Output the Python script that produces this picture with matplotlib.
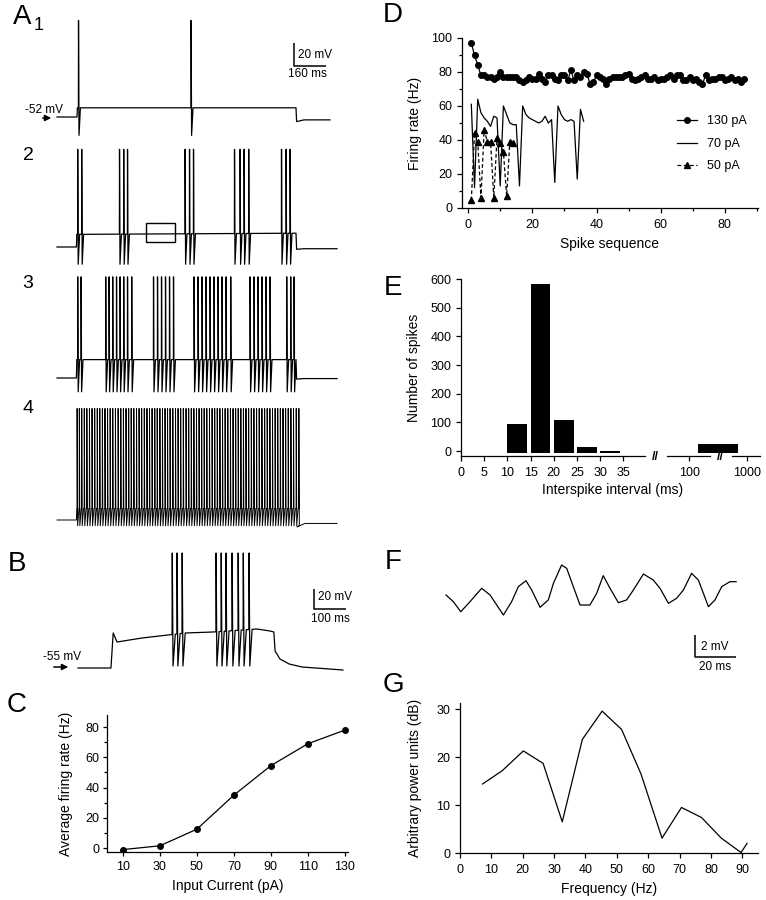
"""Multi-panel figure: firing patterns, rate adaptation, ISI histogram, oscillation and power spectrum."""

import matplotlib
matplotlib.use("Agg")
import matplotlib.pyplot as plt
import numpy as np
from matplotlib.patches import Rectangle
from matplotlib.ticker import MultipleLocator, FixedLocator, NullLocator

plt.rcParams["font.family"] = ["Liberation Sans", "DejaVu Sans"]

W, H = 766, 900

# ---- data -------------------------------------------------------------
# A: spike times (ms), current step ~100-1195 ms
a1_spikes = [107, 670]
a2_spikes = [103, 123, 312, 333, 352, 640, 662, 682, 887, 915, 935, 958, 1122, 1145, 1165]
a3_spikes = [103, 120, 243, 260, 278, 297, 315, 333, 352, 373, 482, 502, 522, 542, 562, 582,
             685, 705, 725, 745, 765, 785, 805, 825, 845, 868, 965, 985, 1005, 1025, 1045, 1065,
             1148, 1168, 1185]

# D: instantaneous firing rate (Hz) versus spike number
rate_130pA = [97, 90, 84, 78, 78, 77, 77, 76, 77, 80,
              77, 77, 77, 77, 77, 75, 74, 75, 77, 76,
              76, 79, 76, 74, 78, 78, 76, 75, 78, 78,
              75, 81, 75, 78, 77, 80, 79, 73, 74, 78,
              77, 76, 73, 76, 77, 77, 77, 77, 78, 79,
              76, 75, 76, 77, 78, 76, 76, 77, 75, 76,
              76, 77, 78, 76, 78, 78, 75, 75, 77, 75,
              76, 74, 73, 78, 75, 76, 76, 77, 77, 75,
              76, 77, 75, 76, 74, 76]
rate_70pA = [61, 12, 64, 56, 53, 51, 48, 54, 53, 13,
             60, 55, 50, 49, 49, 13, 60, 55, 53, 52,
             51, 50, 51, 54, 50, 52, 15, 60, 55, 52,
             51, 52, 51, 17, 58, 51]
rate_50pA = [4.5, 44, 39, 6, 46, 39, 39, 6, 41, 38, 33, 7, 39, 38]

# A4 (130 pA) spike times from the instantaneous rates above
a4_spikes = list(100 + np.concatenate([[0], np.cumsum(1000.0 / np.array(rate_130pA[1:]))]))

# B: spike times (ms) and membrane level knots
b_spikes = [294, 309, 325, 431, 447, 462, 481, 500, 516, 534]
b_plat_t = [110, 122, 200, 281, 334, 422, 559, 600, 612]
b_plat_v = [-20, -29, -25, -22, -20, -19, -16, -18, -19]
b_after_t = [616, 631, 660, 700, 828]
b_after_v = [-38, -46, -51, -54, -57]

# C: input-output curve
current_pA = [10, 30, 50, 70, 90, 110, 130]
avg_rate = [-1, 1.5, 12.5, 35, 54.5, 69, 78]

# E: interspike interval histogram
isi_bins = [10, 15, 20, 25, 30]
isi_counts = [93, 583, 108, 15, 2]
long_bin = (143, 700)
long_count = 24

# F: subthreshold oscillation (ms, mV)
osc_t = [0, 3.6, 7.2, 11.7, 17.4, 21.5, 28.0, 32.0, 35.3, 39.0, 41.8, 45.9, 49.9, 52.4,
         56.4, 58.9, 62.1, 65.4, 70.2, 73.5, 76.7, 80.0, 84.1, 88.1, 91.4, 96.3, 101.1,
         104.4, 108.5, 112.5, 115.8, 119.8, 123.1, 128.0, 131.2, 134.5, 138.5, 141.5]
osc_v = [0, -0.61, -1.52, -0.61, 0.61, 0, -1.82, -0.61, 0.76, 1.30, 0.45, -1.12, -0.45, 1.06,
         2.73, 2.42, 0.76, -0.91, -0.91, 0.15, 1.76, 0.61, -0.70, -0.45, 0.45, 1.91, 1.36,
         0.61, -0.76, -0.30, 0.45, 1.97, 1.36, -1.06, -0.45, 0.76, 1.21, 1.21]

# G: power spectrum
freq_hz = [7.2, 13.5, 20.2, 26.5, 32.6, 39.0, 45.3, 51.5, 57.7, 64.4, 70.6, 77.0, 83.3, 89.6, 91.5]
power_db = [14.4, 17.2, 21.3, 18.7, 6.5, 23.7, 29.6, 25.8, 16.5, 3.1, 9.5, 7.4, 3.1, 0.1, 2.0]


# ---- helpers ----------------------------------------------------------
fig = plt.figure(figsize=(W / 100, H / 100), dpi=100)


def add_ax(left, top, width, height):
    return fig.add_axes([left / W, 1 - (top + height) / H, width / W, height / H])


def trace_ax(left, top, width, height, x0, ms_px, base, base_mv, mv_px):
    ax = add_ax(left, top, width, height)
    ax.set_xlim((left - x0) * ms_px, (left + width - x0) * ms_px)
    ax.set_ylim(base_mv - (top + height - base) * mv_px, base_mv + (base - top) * mv_px)
    ax.axis("off")
    ax.patch.set_visible(False)
    return ax


def ftext(x, y, s, **kw):
    fig.text(x / W, 1 - y / H, s, **kw)


def farrow(x0, x1, y):
    fig.add_artist(matplotlib.patches.FancyArrowPatch(
        (x0 / W, 1 - y / H), (x1 / W, 1 - y / H), transform=fig.transFigure,
        arrowstyle="-|>", mutation_scale=9, lw=1.1, color="k"))


def build_trace(spikes, rest, t_on, plat_t, plat_v, peak, trough, after_t, after_v, t_end):
    pts = [(0.0, rest), (t_on, rest)]
    windows = []
    spike_pts = []
    for i, s in enumerate(spikes):
        nxt = spikes[i + 1] if i + 1 < len(spikes) else plat_t[-1]
        rec = min(s + 10, nxt - 0.5)
        p0 = np.interp(s, plat_t, plat_v)
        spike_pts += [(s, p0), (s + 0.6, peak), (s + 3.0, trough)]
        if rec > s + 3.0:
            spike_pts.append((rec, np.interp(rec, plat_t, plat_v)))
        windows.append((s, max(rec, s + 3.0)))
    for tk, vk in zip(plat_t, plat_v):
        if not any(a <= tk <= b for a, b in windows):
            pts.append((tk, vk))
    pts += spike_pts
    pts.sort()
    pts += list(zip(after_t, after_v)) + [(t_end, after_v[-1])]
    t, v = zip(*pts)
    return t, v


def scale_bar(ax, t, v, dt, dv):
    ax.plot([t, t, t + dt], [v + dv, v, v], color="k", lw=1.1, clip_on=False,
            solid_capstyle="butt")


def style(ax, tick_len=3.5, xpad=4.5, ypad=3.5):
    for side in ("top", "right"):
        ax.spines[side].set_visible(False)
    for side in ("left", "bottom"):
        ax.spines[side].set_linewidth(0.9)
    ax.tick_params(direction="out", length=tick_len, width=0.9, labelsize=9)
    ax.tick_params(axis="x", pad=xpad)
    ax.tick_params(axis="y", pad=ypad)
    ax.tick_params(which="minor", direction="out", length=tick_len * 0.7, width=0.9)


TR = dict(color="k", lw=0.9)
LAB = dict(fontsize=10)

# ---- A traces ---------------------------------------------------------
ax = trace_ax(50, 10, 300, 135, 57, 5, 117, -52, 0.87)
t, v = build_trace(a1_spikes, -52, 100, [102, 1195], [-44, -44], 32, -68,
                   [1198, 1235], [-56, -54.5], 1365)
ax.plot(t, v, **TR)
scale_bar(ax, 1185, -7.6, 160, 20)
ftext(298, 55, "20 mV", fontsize=8.5, va="center")
ftext(307, 74, "160 ms", fontsize=8.5, va="center", ha="center")
ftext(25, 113, "-52 mV", fontsize=8.5, va="baseline")
farrow(40, 54, 118)

ax = trace_ax(50, 140, 300, 135, 57, 5, 247, -52, 0.87)
t, v = build_trace(a2_spikes, -52, 97, [99, 1195], [-41, -40], 33, -67,
                   [1198, 1235], [-54, -53.5], 1400)
ax.plot(t, v, **TR)
ax.add_patch(Rectangle((445, -47.6), 145, 16.5, fill=False, lw=1.0, ec="k"))

ax = trace_ax(50, 265, 300, 135, 57, 5, 378, -52, 0.87)
t, v = build_trace(a3_spikes, -52, 97, [99, 1195], [-36, -36], 36, -64,
                   [1198, 1235], [-53, -52.5], 1400)
ax.plot(t, v, **TR)

ax = trace_ax(50, 400, 300, 135, 57, 5, 520, -52, 0.87)
t, v = build_trace(a4_spikes, -52, 97, [99, 1195], [-42, -42], 45, -57,
                   [1200, 1240], [-58, -55], 1400)
ax.plot(t, v, color="k", lw=0.7)

# ---- B ----------------------------------------------------------------
ax = trace_ax(70, 545, 290, 135, 78, 3.125, 668, -55, 1.0)
t, v = build_trace(b_spikes, -55, 103, b_plat_t, b_plat_v, 60, -53,
                   b_after_t, b_after_v, 828)
ax.plot(t, v, **TR)
scale_bar(ax, 737.5, 4, 100, 20)
ftext(318, 597, "20 mV", fontsize=8.5, va="center")
ftext(330, 619, "100 ms", fontsize=8.5, va="center", ha="center")
ftext(43, 660, "-55 mV", fontsize=8.5, va="baseline")
farrow(51, 71, 667)

# ---- C ----------------------------------------------------------------
ax = add_ax(107, 715, 241, 137)
ax.plot(current_pA, avg_rate, color="k", lw=0.9, marker="o", ms=4)
ax.set_xlim(1.4, 131.7)
ax.set_ylim(-2.6, 88)
ax.xaxis.set_major_locator(FixedLocator(current_pA))
ax.yaxis.set_major_locator(MultipleLocator(20))
ax.yaxis.set_minor_locator(MultipleLocator(10))
style(ax, tick_len=2.8, xpad=4, ypad=2.5)
ax.set_xlabel("Input Current (pA)", labelpad=4, **LAB)
ax.set_ylabel("Average firing rate (Hz)", labelpad=9, **LAB)

# ---- D ----------------------------------------------------------------
ax = add_ax(462, 38, 296, 170)
ax.plot(np.arange(1, len(rate_130pA) + 1), rate_130pA, color="k", lw=0.9,
        marker="o", ms=4, label="130 pA")
ax.plot(np.arange(1, len(rate_70pA) + 1), rate_70pA, color="k", lw=0.9, label="70 pA")
ax.plot(np.arange(1, len(rate_50pA) + 1), rate_50pA, color="k", lw=0.9, ls=(0, (3, 2)),
        marker="^", ms=4.5, label="50 pA")
ax.set_xlim(-1.9, 90.3)
ax.set_ylim(0, 100)
ax.xaxis.set_major_locator(MultipleLocator(20))
ax.xaxis.set_minor_locator(MultipleLocator(10))
ax.yaxis.set_major_locator(MultipleLocator(20))
ax.yaxis.set_minor_locator(MultipleLocator(10))
style(ax)
ax.set_xlabel("Spike sequence", labelpad=4, **LAB)
ax.set_ylabel("Firing rate (Hz)", labelpad=7, **LAB)
ax.legend(frameon=False, fontsize=9, loc="upper left", bbox_to_anchor=(666 / W, 1 - 104 / H),
          bbox_transform=fig.transFigure, handlelength=1.6, labelspacing=0.85,
          handletextpad=0.8)

# ---- E ----------------------------------------------------------------
ax = add_ax(461, 279, 184, 177)
ax.bar(isi_bins, np.array(isi_counts) + 8, bottom=-8, width=4.3, align="edge", color="k")
ax.set_xlim(0, 39.7)
ax.set_ylim(-17, 600)
ax.xaxis.set_major_locator(MultipleLocator(5))
ax.yaxis.set_major_locator(MultipleLocator(100))
style(ax)
ax.set_ylabel("Number of spikes", labelpad=7, **LAB)

axr = add_ax(667, 279, 93, 177)
axr.set_xscale("log")
axr.bar([long_bin[0]], [long_count + 8], bottom=-8, width=[long_bin[1] - long_bin[0]],
        align="edge", color="k")
axr.set_xlim(41.5, 1670)
axr.set_ylim(-17, 600)
axr.xaxis.set_major_locator(FixedLocator([100, 1000]))
axr.xaxis.set_minor_locator(NullLocator())
axr.set_xticklabels(["100", "1000"])
axr.set_yticks([])
style(axr)
axr.spines["left"].set_visible(False)
axr.spines["bottom"].set_visible(False)
axr.patch.set_visible(False)
for a, b in ((0, 43 / 93), (65 / 93, 1)):
    axr.plot([a, b], [0, 0], transform=axr.transAxes, color="k", lw=0.9, clip_on=False)
ftext(655, 457, "//", fontsize=9, ha="center", va="center", fontweight="bold")
ftext(720, 457, "//", fontsize=9, ha="center", va="center", fontweight="bold")
ftext(613, 490, "Interspike interval (ms)", ha="center", va="center", **LAB)

# ---- F ----------------------------------------------------------------
ax = trace_ax(440, 545, 310, 130, 446, 20 / 41, 595, 0.0, 2 / 22)
ax.plot(osc_t, osc_v, **TR)
scale_bar(ax, 121.5, -5.64, 20, 2)
ftext(701, 647, "2 mV", fontsize=8.5, va="center")
ftext(715, 667, "20 ms", fontsize=8.5, va="center", ha="center")

# ---- G ----------------------------------------------------------------
ax = add_ax(460, 703, 298, 150)
ax.plot(freq_hz, power_db, color="k", lw=0.9)
ax.set_xlim(0, 95)
ax.set_ylim(0, 31.3)
ax.xaxis.set_major_locator(MultipleLocator(10))
ax.yaxis.set_major_locator(MultipleLocator(10))
style(ax)
ax.set_xlabel("Frequency (Hz)", labelpad=4, **LAB)
ax.set_ylabel("Arbitrary power units (dB)", labelpad=10, **LAB)

# ---- panel labels -----------------------------------------------------
ftext(22, 17, "A", fontsize=20, ha="center", va="center")
ftext(39, 25, "1", fontsize=13, ha="center", va="center")
for lab, y in (("2", 155), ("3", 283), ("4", 408)):
    ftext(28, y, lab, fontsize=14, ha="center", va="center")
for lab, x, y in (("B", 17, 564), ("C", 17, 705), ("D", 393, 15), ("E", 393, 288),
                  ("F", 393, 562), ("G", 393, 685)):
    ftext(x, y, lab, fontsize=20, ha="center", va="center")

fig.savefig("out.png", dpi=100)
